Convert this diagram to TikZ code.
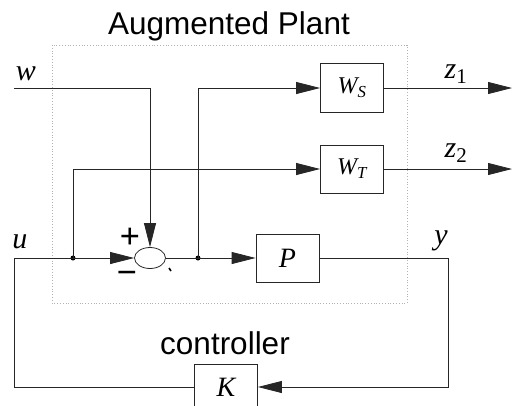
\documentclass[tikz,border=0pt]{standalone}
\usepackage{fontspec}
\setmainfont{Liberation Serif}
\newfontfamily\hv{Liberation Sans}
\usetikzlibrary{arrows.meta,shapes.geometric}
\begin{document}
\begin{tikzpicture}[x=1pt,y=-1pt,
 line/.style={draw=black!85, line width=0.8pt},
 arr/.style={line, -{Triangle[length=24pt,width=12pt]}},
 blk/.style={draw=black!85, line width=0.8pt, minimum width=63pt, inner sep=0pt, font=\fontsize{28}{28}\selectfont\itshape},
 lab/.style={font=\fontsize{30}{30}\selectfont\itshape, inner sep=0pt},
 sgn/.style={font=\fontsize{36}{36}\selectfont\bfseries, inner sep=0pt},
 ttl/.style={font=\hv\fontsize{31.5}{31.5}\selectfont, inner sep=0pt},
 dotn/.style={circle, fill=black, inner sep=0pt, minimum size=5pt}]
\useasboundingbox (0,0) rectangle (512,405);
\draw[black!30, dotted, line width=0.8pt] (52,45) rectangle (407,303);
\node[ttl] (title) at (229,26) {Augmented Plant};
\node[ttl] (ctl) at (225,343) {controller};
\node[ellipse, draw=black!85, line width=0.8pt, minimum width=31pt, minimum height=21pt, inner sep=0pt] (sum) at (150,258) {};
\node[blk, minimum height=48pt] (P) at (287.5,258) {P};
\node[blk, minimum height=49pt, font=\fontsize{24}{24}\selectfont\itshape] (WS) at (352,88) {W\textsubscript{S}};
\node[blk, minimum height=48pt, font=\fontsize{24}{24}\selectfont\itshape] (WT) at (352,169) {W\textsubscript{T}};
\node[blk, minimum height=46pt] (K) at (226,387) {K};
\node[dotn] (n1) at (73,258) {};
\node[dotn] (n2) at (198,258) {};
\coordinate (w0) at (14,88);
\coordinate (wc) at (150,88);
\coordinate (kl) at (14,387);
\coordinate (ul) at (14,258);
\coordinate (z1e) at (512,88);
\coordinate (z2e) at (512,169);
\coordinate (yk) at (448,387);
\draw[arr] (w0) -- (wc) -- (sum.north);
\draw[line] (K.west) -- (kl) -- (ul) -- (n1.center);
\draw[arr] (n1.center) -- (sum.west);
\draw[arr] (n1.center) |- (WT.west);
\draw[line] (sum.east) -- (n2.center);
\draw[arr] (n2.center) -- (P.west);
\draw[arr] (n2.center) |- (WS.west);
\draw[arr] (WS.east) -- (z1e);
\draw[arr] (WT.east) -- (z2e);
\draw[arr] (P.east) -| (yk) -- (K.east);
\node[lab] (lw) at (26,74) {w};
\node[lab] (lu) at (20,242) {u};
\node[lab] (ly) at (441,241) {y};
\node[lab] (lz1) at (456,74) {z{\upshape\textsubscript{1}}};
\node[lab] (lz2) at (456,153) {z{\upshape\textsubscript{2}}};
\node[sgn] (plus) at (130,238) {+};
\node[sgn] (minus) at (127,278) {−};
\draw[black, line width=1.6pt] (169,268) -- (171,271);
\end{tikzpicture}
\end{document}
